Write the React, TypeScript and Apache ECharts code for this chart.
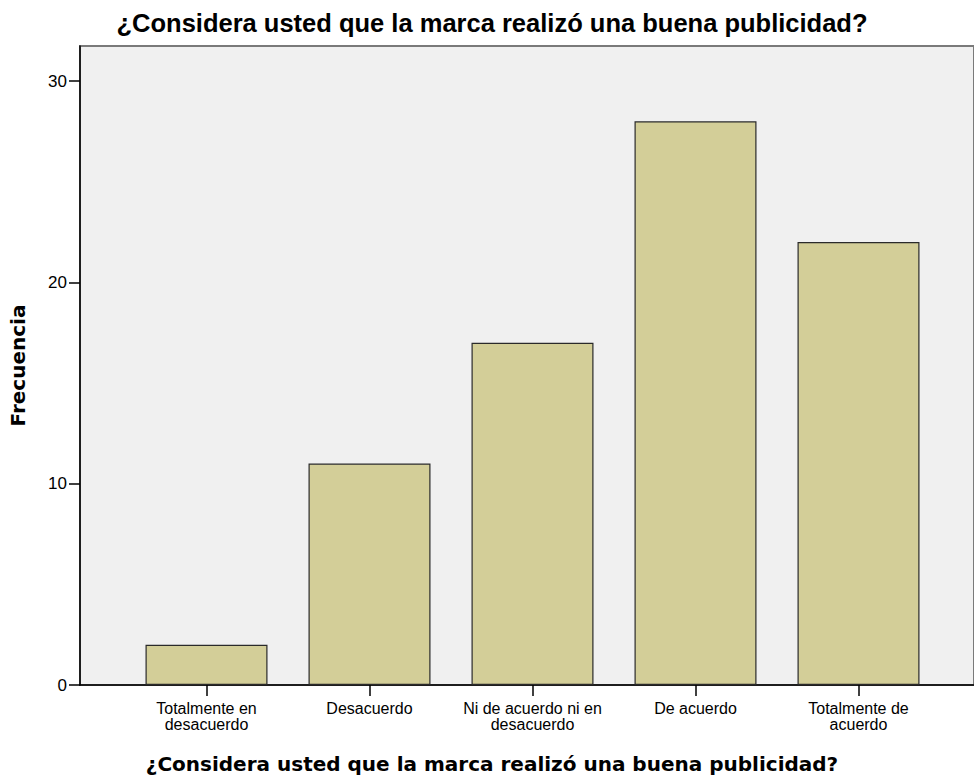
import React, { useEffect, useRef } from "react";
import * as echarts from "echarts";

const categories = [
  "Totalmente en\ndesacuerdo",
  "Desacuerdo",
  "Ni de acuerdo ni en\ndesacuerdo",
  "De acuerdo",
  "Totalmente de\nacuerdo",
];
const frequencies = [2, 11, 17, 28, 22];
const yTicks = [0, 10, 20, 30];
const chartTitle = "¿Considera usted que la marca realizó una buena publicidad?";
const xAxisTitle = "¿Considera usted que la marca realizó una buena publicidad?";
const yAxisTitle = "Frecuencia";

export default function App() {
  const ref = useRef<HTMLDivElement>(null);
  useEffect(() => {
    if (!ref.current) return;
    const chart = echarts.init(ref.current, null, { renderer: "svg" });
    const yMax = 31.74;
    chart.setOption({
      animation: false,
      backgroundColor: "#ffffff",
      title: [
        {
          text: chartTitle,
          left: 487,
          textAlign: "center",
          top: 5,
          textStyle: {
            fontFamily: "Liberation Sans",
            fontWeight: "bold",
            fontSize: 25.5,
            color: "#000",
          },
        },
        {
          text: xAxisTitle,
          left: 487,
          textAlign: "center",
          top: 749,
          textStyle: {
            fontFamily: "DejaVu Sans",
            fontWeight: "bold",
            fontSize: 20,
            color: "#000",
          },
        },
      ],
      grid: [
        {
          left: 80,
          width: 900,
          top: 46,
          bottom: 91,
          show: true,
          backgroundColor: "#f0f0f0",
          borderColor: "#7a7a7a",
          borderWidth: 2,
        },
        {
          left: 125,
          right: 34,
          top: 46,
          bottom: 91,
        },
      ],
      xAxis: [
        {
          gridIndex: 0,
          type: "value",
          min: 0,
          max: 1,
          axisLine: { show: true, lineStyle: { color: "#000", width: 1.5 } },
          axisTick: { show: false },
          axisLabel: { show: false },
          splitLine: { show: false },
        },
        {
          gridIndex: 1,
          type: "category",
          data: categories,
          axisLine: { show: false },
          axisTick: {
            show: true,
            alignWithLabel: true,
            length: 11,
            lineStyle: { color: "#000", width: 1.5 },
          },
          axisLabel: {
            fontFamily: "Liberation Sans",
            fontSize: 16,
            color: "#000",
            lineHeight: 16,
            margin: 15,
            interval: 0,
          },
        },
      ],
      yAxis: [
        {
          gridIndex: 0,
          type: "value",
          min: 0,
          max: yMax,
          interval: 10,
          name: yAxisTitle,
          nameLocation: "middle",
          nameRotate: 90,
          nameGap: 52,
          nameTextStyle: {
            fontFamily: "DejaVu Sans",
            fontWeight: "bold",
            fontSize: 20,
            color: "#000",
          },
          axisLine: { show: true, lineStyle: { color: "#000", width: 1.5 } },
          axisTick: {
            show: true,
            length: 11,
            customValues: yTicks,
            lineStyle: { color: "#000", width: 1.5 },
          },
          axisLabel: {
            fontFamily: "Liberation Sans",
            fontSize: 17,
            color: "#000",
            margin: 13,
            customValues: yTicks,
          },
          splitLine: { show: false },
        },
        {
          gridIndex: 1,
          type: "value",
          min: 0,
          max: yMax,
          show: false,
          splitLine: { show: false },
        },
      ],
      series: [
        {
          type: "bar",
          xAxisIndex: 1,
          yAxisIndex: 1,
          data: frequencies,
          barWidth: 122,
          itemStyle: {
            color: "#d3ce98",
            borderColor: "#2a2a2a",
            borderWidth: 1.2,
          },
        },
      ],
    });
    return () => chart.dispose();
  }, []);
  return (
    <div
      ref={ref}
      style={{ position: "fixed", left: 0, top: 0, width: 974, height: 776 }}
    />
  );
}
